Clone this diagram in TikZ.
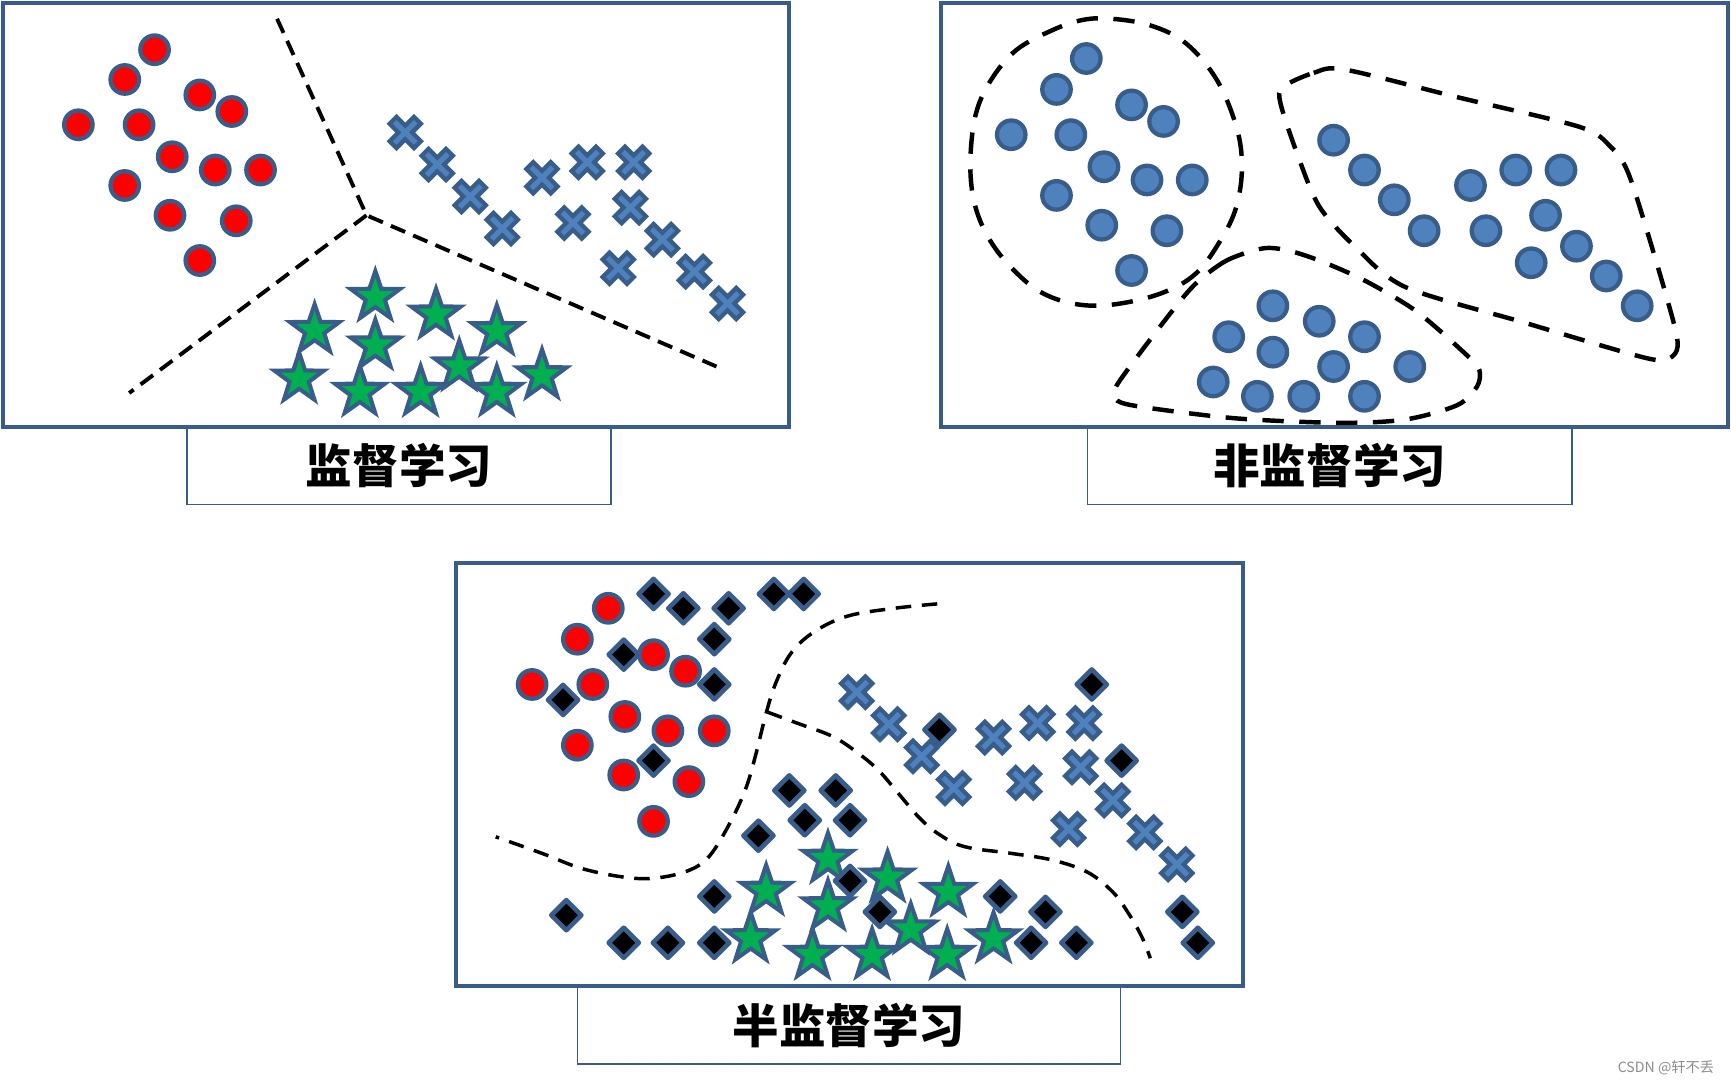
\documentclass[tikz,border=0pt]{standalone}
\usepackage{fontspec}
\newfontfamily\cjk{Noto Sans CJK SC}

\begin{document}
\begin{tikzpicture}[x=0.02cm, y=-0.02cm,
    panel/.style={draw=FrameBlue, line width=2pt},
    tagbox/.style={draw=FrameBlue, line width=0.8pt, minimum height=1.4cm, inner sep=0pt, font=\cjk\bfseries\fontsize{24}{24}\selectfont},
    redpt/.style={fill=red, draw=FrameBlue, line width=2.2pt},
    bluept/.style={fill=PointBlue, draw=FrameBlue, line width=2.2pt},
    cutline/.style={dash pattern=on 8pt off 4.5pt, line width=2pt},
    ringline/.style={dash pattern=on 11pt off 8pt, line width=2.3pt},
    sepline/.style={dash pattern=on 8pt off 5.5pt, line width=1.8pt},
    starmk/.pic={\filldraw[fill=StarGreen, draw=FrameBlue, line width=2.1pt]
        (-90:23.5) -- (-54:9.2) -- (-18:23.5) -- (18:9.2) -- (54:23.5) -- (90:9.2)
        -- (126:23.5) -- (162:9.2) -- (198:23.5) -- (234:9.2) -- cycle;},
    crossmk/.pic={\filldraw[fill=PointBlue, draw=FrameBlue, line width=2.2pt, rotate=45]
        (4.4,15.6) -- (4.4,4.4) -- (15.6,4.4) -- (15.6,-4.4) -- (4.4,-4.4) -- (4.4,-15.6) -- (-4.4,-15.6)
        -- (-4.4,-4.4) -- (-15.6,-4.4) -- (-15.6,4.4) -- (-4.4,4.4) -- (-4.4,15.6) -- cycle;},
    diamk/.pic={\filldraw[fill=black, draw=FrameBlue, line width=2.4pt, line join=round]
        (0,-13.6) -- (13.6,0) -- (0,13.6) -- (-13.6,0) -- cycle;}]

    % 颜色
    \definecolor{FrameBlue}{RGB}{56, 93, 138}
    \definecolor{PointBlue}{RGB}{79, 129, 189}
    \definecolor{StarGreen}{RGB}{0, 176, 80}

    \useasboundingbox (0,0) rectangle (1568,981);

    % 监督学习
    \draw[panel] (3,3) rectangle (715,387);
    \coordinate (mid) at (332,195);
    \coordinate (topend) at (251,17);
    \coordinate (leftend) at (117,356);
    \coordinate (rightend) at (649,332);
    \draw[cutline] (topend) -- (mid) -- (rightend);
    \draw[cutline] (mid) -- (leftend);
    \foreach \x/\y in {140/45, 113/72, 181/86, 210/101, 71/113, 126/113, 156/142, 195/154, 236/154, 113/168, 154/195, 214/200, 181/236}
        \filldraw[redpt] (\x,\y) circle (12.9);
    \foreach \x/\y in {367/120, 396/149, 426/178, 455/207, 491/161, 532/147, 574/147, 571/188, 519/202, 600/217, 560/243, 629/246, 659/275}
        \pic at (\x,\y) {crossmk};
    \foreach \x/\y in {340/269, 395/285, 285/299, 450/300, 340/313, 416/332, 491/340, 271/343, 326/355, 381/355, 450/355}
        \pic at (\x,\y) {starmk};
    \node[tagbox, minimum width=7.68cm] (tag1) at (361.5,422) {监督学习};

    % 非监督学习
    \draw[panel] (852,3) rectangle (1565,387);
    \draw[ringline] plot[smooth cycle, tension=0.6] coordinates {(1007,17) (1042,23) (1074,39) (1102,72) (1120,115) (1125,151) (1120,187) (1106,217) (1083,248) (1051,266) (1007,276) (972,275) (940,263) (912,238) (893,211) (882,181) (879,145) (884,103) (898,72) (921,45) (954,27) (981,18)};
    \draw[ringline] plot[smooth cycle, tension=0.5] coordinates {(1162,79) (1190,66) (1218,63) (1320,88) (1431,115) (1459,133) (1475,157) (1497,226) (1517,296) (1519,317) (1508,326) (1482,322) (1380,292) (1273,260) (1227,223) (1195,187) (1176,142) (1160,94)};
    \draw[ringline] plot[smooth cycle, tension=0.5] coordinates {(1144,225) (1111,236) (1083,257) (1060,284) (1028,326) (1010,352) (1012,363) (1037,369) (1120,379) (1213,383) (1273,380) (1320,367) (1338,350) (1340,335) (1329,322) (1283,282) (1236,254) (1195,236) (1167,227)};
    \foreach \x/\y in {984/53, 957/81, 1025/95, 1054/110, 916/122, 970/122, 1000/151, 1039/163, 1080/163, 957/177, 998/204, 1057/209, 1025/245,
                       1208/127, 1236/154, 1263/181, 1290/209, 1332/168, 1373/154, 1414/154, 1400/195, 1346/209, 1428/223, 1387/238, 1455/250, 1483/277,
                       1153/277, 1195/291, 1113/305, 1236/305, 1153/319, 1208/332, 1277/332, 1099/346, 1139/359, 1181/359, 1236/359}
        \filldraw[bluept] (\x,\y) circle (12.9);
    \node[tagbox, minimum width=8.78cm] (tag2) at (1204.5,422) {非监督学习};

    % 半监督学习
    \draw[panel] (413,510) rectangle (1126,893);
    \draw[sepline] plot[smooth, tension=0.6] coordinates {(849,547) (810,551) (768,558) (738,572) (717,591) (703,618) (694,646) (685,682) (676,713) (662,744) (643,775) (625,788) (597,795) (569,795) (528,787) (491,773) (449,758)};
    \draw[sepline] plot[smooth, tension=0.6] coordinates {(695,645) (722,655) (754,667) (777,682) (796,698) (814,719) (833,741) (851,756) (874,767) (916,773) (953,779) (985,790) (1008,808) (1022,827) (1034,848) (1042,868)};
    \foreach \x/\y in {750/778, 804/795, 694/807, 859/808, 750/821, 825/842, 680/850, 900/850, 736/865, 790/865, 858/865}
        \pic at (\x,\y) {starmk};
    \foreach \x/\y in {592/538, 619/551, 660/551, 701/538, 728/538, 647/579, 565/593, 647/620, 510/634, 851/661, 989/620, 592/689, 1016/689,
                       715/716, 757/716, 729/743, 770/743, 687/757, 770/798, 647/812, 906/812, 797/826, 947/826, 1071/826, 513/829,
                       565/854, 605/854, 647/854, 934/854, 975/854, 1085/854}
        \pic at (\x,\y) {diamk};
    \foreach \x/\y in {551/551, 523/579, 592/593, 621/608, 482/620, 537/620, 566/649, 605/662, 647/662, 523/675, 565/702, 624/708, 592/744}
        \filldraw[redpt] (\x,\y) circle (12.9);
    \foreach \x/\y in {776/627, 805/656, 835/685, 864/714, 900/668, 940/655, 982/655, 979/695, 928/709, 1008/725, 968/751, 1037/754, 1066/783}
        \pic at (\x,\y) {crossmk};
    \node[tagbox, minimum width=9.84cm] (tag3) at (769,929) {半监督学习};

    % 水印
    \node[font=\cjk\fontsize{7.3}{8}\selectfont, text=black!45] (mark) at (1509,967) {CSDN @轩不丢};

\end{tikzpicture}
\end{document}
